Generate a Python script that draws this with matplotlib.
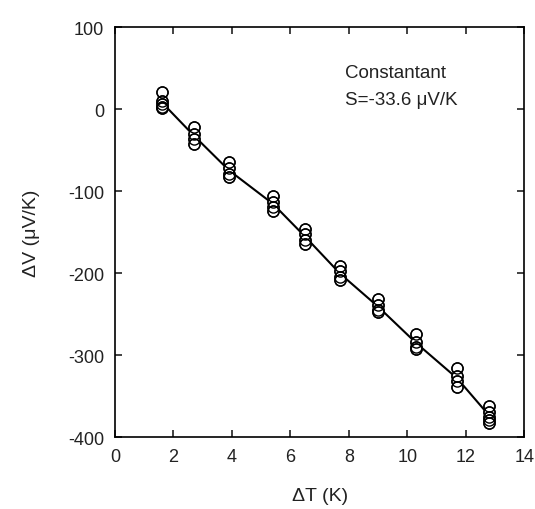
import numpy as np
import matplotlib
matplotlib.use('Agg')
import matplotlib.pyplot as plt

plt.rcParams['font.family'] = ['Liberation Sans', 'DejaVu Sans']
plt.rcParams['axes.unicode_minus'] = False

# temperature difference of each group (K)
dT = [1.6, 2.7, 3.9, 5.4, 6.5, 7.7, 9.0, 10.3, 11.7, 12.8]
# measured voltages for each group (uV)
dV = [
    [21, 10, 6, 3, 1],
    [-22, -30, -36, -42],
    [-65, -72, -79, -83],
    [-106, -113, -119, -124],
    [-146, -152, -160, -164],
    [-191, -198, -205, -209],
    [-232, -239, -245, -248],
    [-274, -284, -290, -293],
    [-316, -326, -332, -339],
    [-362, -370, -375, -379, -383],
]

fig = plt.figure(figsize=(5.35, 5.10), dpi=100)
ax = fig.add_axes([0.215, 0.141, 0.765, 0.804])

# line through group means
means = [np.mean(v) for v in dV]
ax.plot(dT, means, color='black', lw=1.5, zorder=2)

for x, vals in zip(dT, dV):
    ax.plot([x] * len(vals), vals, 'o', ms=8, mfc='white', mec='black',
            mew=1.0, zorder=3, alpha=1)
    ax.plot([x] * len(vals), vals, 'o', ms=8, mfc='none', mec='black',
            mew=1.0, zorder=4)

ax.set_xlim(0, 14)
ax.set_ylim(-400, 100)
ax.set_xticks(np.arange(0, 15, 2))
ax.set_yticks(np.arange(-400, 101, 100))
ax.tick_params(direction='in', top=True, right=True, length=5, width=1.2,
               labelsize=13, colors='#222222', pad=8)
for s in ax.spines.values():
    s.set_linewidth(1.2)

ax.set_xlabel('ΔT (K)', fontsize=14, color='#222222', labelpad=16)
ax.set_ylabel('ΔV (μV/K)', fontsize=14, color='#222222', labelpad=20)

ax.text(7.85, 45, 'Constantant', fontsize=13.5, color='#222222', va='center')
ax.text(7.85, 12, 'S=-33.6 μV/K', fontsize=13.5, color='#222222', va='center')

fig.savefig('out.png', dpi=100)
